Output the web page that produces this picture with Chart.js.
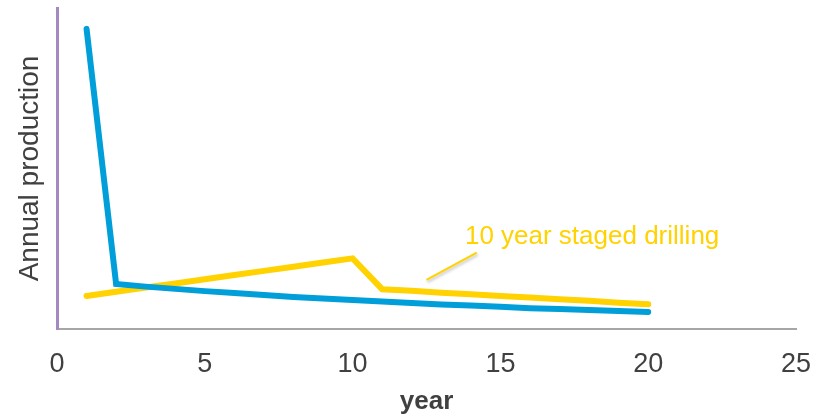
<!DOCTYPE html>
<html>
<head>
<meta charset="utf-8">
<script src="https://cdn.jsdelivr.net/npm/chart.js@4"></script>
<style>
  html, body { margin: 0; padding: 0; background: #fff; }
  #wrap { width: 823px; height: 414px; }
</style>
</head>
<body>
<div id="wrap"><canvas id="prodChart" width="823" height="414"></canvas></div>
<script>
const years = [1,2,3,4,5,6,7,8,9,10,11,12,13,14,15,16,17,18,19,20];
const singleWell = [93.5,14.0,13.2,12.5,11.8,11.2,10.6,10.0,9.5,9.0,8.6,8.1,7.6,7.3,6.9,6.5,6.2,5.9,5.6,5.3];
const stagedDrilling = [10.3,11.6,12.9,14.2,15.5,16.8,18.1,19.4,20.7,22.0,12.4,11.9,11.3,10.8,10.3,9.8,9.3,8.8,8.2,7.7];
const xTicks = [0,5,10,15,20,25];
const calloutText = "10 year staged drilling";
const calloutLine = [[12.5, 15.3], [14.2, 23.8]];
const calloutAnchor = [13.8, 28.7];

const blue = "#009fda";
const yellow = "#ffd200";
const font = "'Liberation Sans', Arial, sans-serif";

// leader line + label for the yellow series
const callout = {
    id: "callout",
    afterDatasetsDraw(chart) {
        const c = chart.ctx, sx = chart.scales.x, sy = chart.scales.y;
        c.save();
        c.shadowColor = "rgba(0,0,0,0.25)";
        c.shadowBlur = 3;
        c.shadowOffsetX = 1;
        c.shadowOffsetY = 2;
        c.strokeStyle = yellow;
        c.lineWidth = 2;
        c.beginPath();
        c.moveTo(sx.getPixelForValue(calloutLine[0][0]), sy.getPixelForValue(calloutLine[0][1]));
        c.lineTo(sx.getPixelForValue(calloutLine[1][0]), sy.getPixelForValue(calloutLine[1][1]));
        c.stroke();
        c.restore();
        c.save();
        c.fillStyle = yellow;
        c.font = "26px " + font;
        c.textBaseline = "middle";
        c.fillText(calloutText, sx.getPixelForValue(calloutAnchor[0]), sy.getPixelForValue(calloutAnchor[1]));
        c.restore();
    }
};

new Chart(document.getElementById("prodChart"), {
    type: "line",
    data: {
        datasets: [
            {
                label: "single",
                data: years.map((y, i) => ({x: y, y: singleWell[i]})),
                borderColor: blue,
                borderWidth: 6,
                borderCapStyle: "round",
                pointRadius: 0,
                tension: 0
            },
            {
                label: calloutText,
                data: years.map((y, i) => ({x: y, y: stagedDrilling[i]})),
                borderColor: yellow,
                borderWidth: 6,
                borderCapStyle: "round",
                pointRadius: 0,
                tension: 0
            }
        ]
    },
    plugins: [callout],
    options: {
        responsive: false,
        animation: false,
        layout: { padding: { top: 8, right: 27, left: 0, bottom: 0 } },
        plugins: { legend: { display: false }, tooltip: { enabled: false } },
        scales: {
            x: {
                type: "linear",
                min: 0,
                max: 25,
                afterBuildTicks: s => { s.ticks = xTicks.map(v => ({value: v})); },
                afterFit: s => { s.height = 85; s.paddingLeft = 0; s.paddingRight = 0; },
                grid: { display: false, drawTicks: false },
                border: { display: true, color: "#a6a6a6", width: 2 },
                ticks: { color: "#404040", font: { size: 27, family: font }, padding: 19, maxRotation: 0 },
                title: { display: true, text: "year", color: "#404040",
                         font: { size: 26, weight: "bold", family: font }, padding: { top: 0, bottom: -3 } }
            },
            y: {
                min: 0,
                max: 100,
                afterFit: s => { s.width = 57; },
                grid: { display: false, drawTicks: false },
                border: { display: true, color: "#a688c0", width: 3 },
                ticks: { display: false },
                title: { display: true, text: "Annual production", color: "#404040",
                         font: { size: 28, family: font }, padding: { top: 13, bottom: 0 } }
            }
        }
    }
});
</script>
</body>
</html>
